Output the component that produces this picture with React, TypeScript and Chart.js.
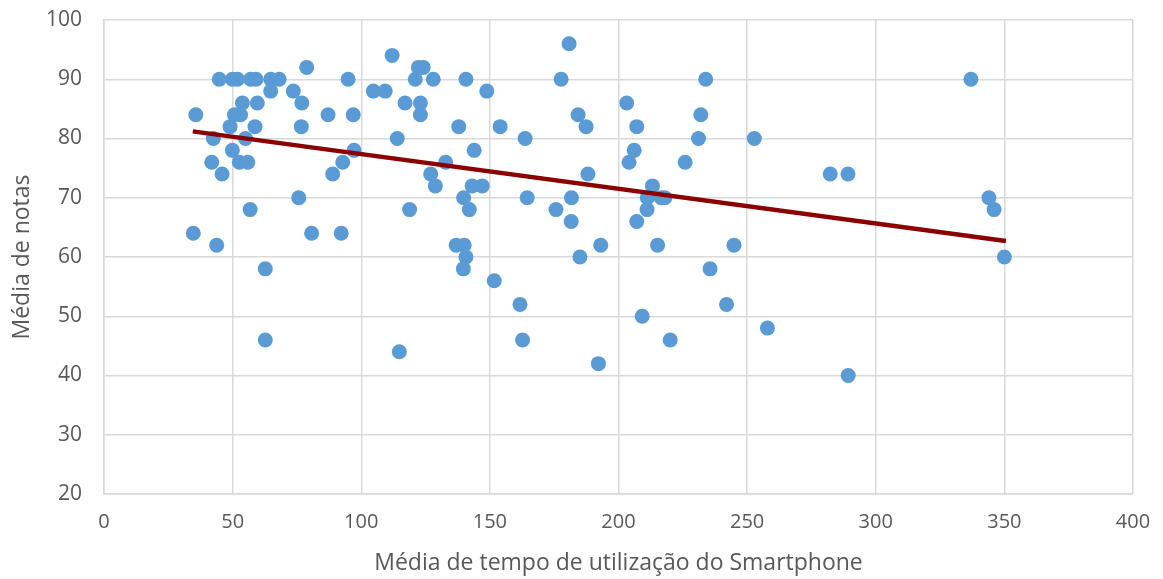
import React, { useEffect, useRef } from "react";
import { Chart, registerables } from "chart.js";

Chart.register(...registerables);

const usageTime: number[] = [
  34.7, 35.7, 41.9, 42.5, 43.8, 44.8, 45.9, 49.0, 49.9, 49.9, 50.7, 51.9, 52.6, 53.1, 53.8, 55.0, 55.9, 56.8, 57.0, 58.7,
  59.1, 59.6, 62.7, 62.7, 64.8, 64.8, 68.1, 73.6, 75.7, 76.9, 76.7, 78.8, 80.7, 87.1, 88.9, 92.2, 92.8, 94.9, 96.9, 97.2,
  104.7, 109.3, 112.0, 114.0, 114.8, 117.0, 118.8, 121.0, 122.2, 124.1, 123.0, 123.0, 127.0, 128.0, 128.8, 132.8, 136.9, 137.9, 139.7, 139.8,
  140.0, 140.7, 140.7, 142.0, 143.1, 143.9, 147.0, 148.8, 151.7, 154.0, 161.7, 162.7, 163.7, 164.5, 175.7, 177.7, 180.8, 181.6, 181.7, 184.3,
  185.0, 187.4, 188.1, 192.2, 193.1, 203.2, 204.1, 206.1, 207.1, 207.1, 209.2, 211.2, 211.1, 213.2, 215.2, 216.6, 218.0, 220.1, 225.9, 231.1,
  232.0, 233.9, 235.6, 242.0, 244.9, 252.8, 257.9, 282.3, 289.2, 289.3, 337.0, 344.0, 346.0, 350.0,
];

const grades: number[] = [
  64, 84, 76, 80, 62, 90, 74, 82, 90, 78, 84, 90, 76, 84, 86, 80, 76, 68, 90, 82,
  90, 86, 58, 46, 90, 88, 90, 88, 70, 86, 82, 92, 64, 84, 74, 64, 76, 90, 84, 78,
  88, 88, 94, 80, 44, 86, 68, 90, 92, 92, 86, 84, 74, 90, 72, 76, 62, 82, 58, 70,
  62, 60, 90, 68, 72, 78, 72, 88, 56, 82, 52, 46, 80, 70, 68, 90, 96, 66, 70, 84,
  60, 82, 74, 42, 62, 86, 76, 78, 82, 66, 50, 70, 68, 72, 62, 70, 70, 46, 76, 80,
  84, 90, 58, 52, 62, 80, 48, 74, 74, 40, 90, 70, 68, 60,
];

const trendX: number[] = [34.5, 350.6];
const trendY: number[] = [81.2, 62.7];

const xTitle = "Média de tempo de utilização do Smartphone";
const yTitle = "Média de notas";

export default function App() {
  const canvasRef = useRef<HTMLCanvasElement | null>(null);

  useEffect(() => {
    document.body.style.margin = "0";
    const canvas = canvasRef.current;
    if (!canvas) return;
    const font = "'Open Sans', 'DejaVu Sans', sans-serif";
    const textColor = "#595959";
    const gridColor = "#D9D9D9";

    const points = usageTime.map((x, i) => ({ x, y: grades[i] }));
    const trend = trendX.map((x, i) => ({ x, y: trendY[i] }));

    const chart = new Chart(canvas, {
      type: "scatter",
      data: {
        datasets: [
          {
            type: "line",
            label: "Tendência",
            data: trend,
            borderColor: "#8B0000",
            borderWidth: 4.5,
            pointRadius: 0,
            fill: false,
            order: 0,
          } as any,
          {
            type: "scatter",
            label: "Dados",
            data: points,
            backgroundColor: "#5B9BD5",
            borderColor: "#5B9BD5",
            borderWidth: 0,
            pointRadius: 7.5,
            order: 1,
          },
        ],
      },
      options: {
        responsive: false,
        animation: false,
        layout: { padding: { left: 0, top: 20, right: 30, bottom: 0 } },
        plugins: {
          legend: { display: false },
          tooltip: { enabled: false },
        },
        scales: {
          x: {
            type: "linear",
            min: 0,
            max: 400,
            ticks: {
              stepSize: 50,
              color: textColor,
              font: { family: font, size: 20 },
              padding: 16,
              maxRotation: 0,
            },
            grid: { color: gridColor, lineWidth: 1.5, drawTicks: false },
            border: { color: gridColor, width: 1.5 },
            title: {
              display: true,
              text: xTitle,
              color: textColor,
              font: { family: font, size: 23 },
              padding: { top: 0, bottom: 2 },
            },
            afterFit: (s: any) => {
              s.height = 85;
              s.paddingLeft = 0;
              s.paddingRight = 0;
            },
          },
          y: {
            type: "linear",
            min: 20,
            max: 100,
            ticks: {
              stepSize: 10,
              color: textColor,
              font: { family: font, size: 21 },
              padding: 22,
            },
            grid: { color: gridColor, lineWidth: 1.5, drawTicks: false },
            border: { color: gridColor, width: 1.5 },
            title: {
              display: true,
              text: yTitle,
              color: textColor,
              font: { family: font, size: 23 },
              padding: { top: 9, bottom: 0 },
            },
            afterFit: (s: any) => {
              s.width = 104;
              s.paddingTop = 0;
              s.paddingBottom = 0;
            },
          },
        },
      },
    });
    return () => chart.destroy();
  }, []);

  return (
    <div style={{ position: "absolute", left: 0, top: 0, width: 1163, height: 579, background: "#fff" }}>
      <canvas ref={canvasRef} width={1163} height={579} />
    </div>
  );
}
